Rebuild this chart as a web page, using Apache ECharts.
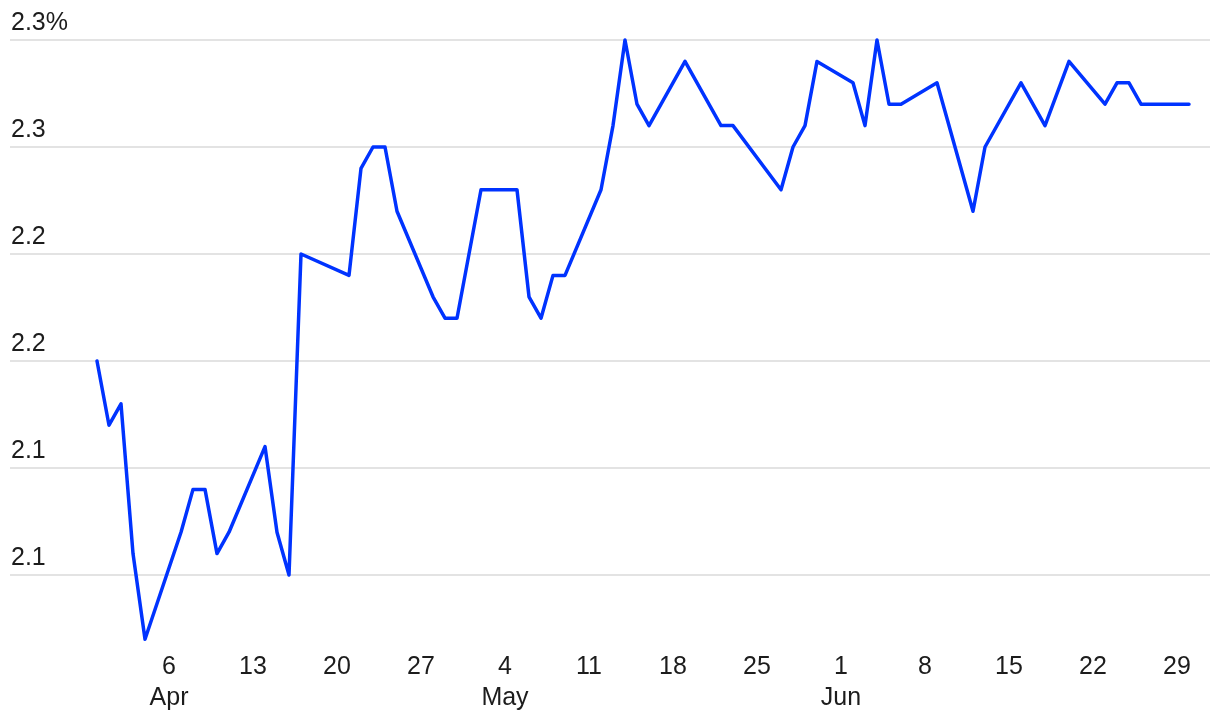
<!DOCTYPE html>
<html>
<head>
<meta charset="utf-8">
<script src="https://cdn.jsdelivr.net/npm/echarts@6/dist/echarts.min.js"></script>
<style>
  html, body { margin: 0; padding: 0; background: #ffffff; }
  #chart { width: 1220px; height: 718px; }
</style>
</head>
<body>
<div id="chart"></div>
<script>
// ---- data ----
const dates = [
  '2025-03-31','2025-04-01','2025-04-02','2025-04-03','2025-04-04',
  '2025-04-07','2025-04-08','2025-04-09','2025-04-10','2025-04-11',
  '2025-04-14','2025-04-15','2025-04-16','2025-04-17',
  '2025-04-21','2025-04-22','2025-04-23','2025-04-24','2025-04-25',
  '2025-04-28','2025-04-29','2025-04-30','2025-05-02',
  '2025-05-05','2025-05-06','2025-05-07','2025-05-08','2025-05-09',
  '2025-05-12','2025-05-13','2025-05-14','2025-05-15','2025-05-16',
  '2025-05-19','2025-05-22','2025-05-23',
  '2025-05-27','2025-05-28','2025-05-29','2025-05-30',
  '2025-06-02','2025-06-03','2025-06-04','2025-06-05','2025-06-06',
  '2025-06-09','2025-06-12','2025-06-13',
  '2025-06-16','2025-06-18','2025-06-20',
  '2025-06-23','2025-06-24','2025-06-25','2025-06-26',
  '2025-06-30'
];
const values = [
  2.15, 2.12, 2.13, 2.06, 2.02,
  2.07, 2.09, 2.09, 2.06, 2.07,
  2.11, 2.07, 2.05, 2.20,
  2.19, 2.24, 2.25, 2.25, 2.22,
  2.18, 2.17, 2.17, 2.23,
  2.23, 2.18, 2.17, 2.19, 2.19,
  2.23, 2.26, 2.30, 2.27, 2.26,
  2.29, 2.26, 2.26,
  2.23, 2.25, 2.26, 2.29,
  2.28, 2.26, 2.30, 2.27, 2.27,
  2.28, 2.22, 2.25,
  2.28, 2.26, 2.29,
  2.27, 2.28, 2.28, 2.27,
  2.27
];
const xTickDates = [
  '2025-04-06','2025-04-13','2025-04-20','2025-04-27',
  '2025-05-04','2025-05-11','2025-05-18','2025-05-25',
  '2025-06-01','2025-06-08','2025-06-15','2025-06-22','2025-06-29'
];
const monthNames = ['Jan','Feb','Mar','Apr','May','Jun','Jul','Aug','Sep','Oct','Nov','Dec'];
const yTickValues = [2.05, 2.10, 2.15, 2.20, 2.25, 2.30];
const yTickLabels = ['2.1', '2.1', '2.2', '2.2', '2.3', '2.3%'];

// ---- helpers ----
const DAY = 86400000;
function toTs(s) {
  const p = s.split('-').map(Number);
  return Date.UTC(p[0], p[1] - 1, p[2]);
}

const chart = echarts.init(document.getElementById('chart'), null, { renderer: 'canvas' });
const FONT = 'Liberation Sans';
const TEXT = '#1c1c1c';
const xTicks = xTickDates.map(toTs);

chart.setOption({
  animation: false,
  backgroundColor: '#ffffff',
  grid: { left: 10, right: 10, top: 18.6, bottom: 68.1, containLabel: false, outerBoundsMode: 'none' },
  xAxis: {
    type: 'value',
    min: toTs(dates[0]) - 7.25 * DAY,
    max: toTs(dates[dates.length - 1]) + 1.75 * DAY,
    axisLine: { show: false },
    axisTick: { show: false, customValues: xTicks },
    splitLine: { show: false },
    axisLabel: {
      customValues: xTicks,
      margin: 2,
      color: TEXT,
      fontFamily: FONT,
      fontSize: 25,
      lineHeight: 31,
      hideOverlap: false,
      formatter: function (v) {
        const d = new Date(v);
        const day = d.getUTCDate();
        return day <= 7 ? day + '\n' + monthNames[d.getUTCMonth()] : String(day);
      }
    }
  },
  yAxis: {
    type: 'value',
    min: 2.015,
    max: 2.31,
    axisLine: { show: false },
    axisTick: { show: false, customValues: yTickValues },
    splitLine: { show: true, lineStyle: { color: '#e3e3e3', width: 2 } },
    axisLabel: {
      customValues: yTickValues,
      inside: true,
      margin: 1,
      align: 'left',
      verticalAlign: 'bottom',
      padding: [0, 0, 4, 0],
      color: TEXT,
      fontFamily: FONT,
      fontSize: 25,
      lineHeight: 25,
      formatter: function (v) {
        let best = 0;
        for (let i = 0; i < yTickValues.length; i++) {
          if (Math.abs(yTickValues[i] - v) < Math.abs(yTickValues[best] - v)) best = i;
        }
        return yTickLabels[best];
      }
    }
  },
  series: [{
    type: 'line',
    data: dates.map((d, i) => [toTs(d), values[i]]),
    showSymbol: false,
    symbol: 'none',
    lineStyle: { color: '#0033ff', width: 3.5, join: 'round', cap: 'round' },
    z: 3
  }]
});
</script>
</body>
</html>
